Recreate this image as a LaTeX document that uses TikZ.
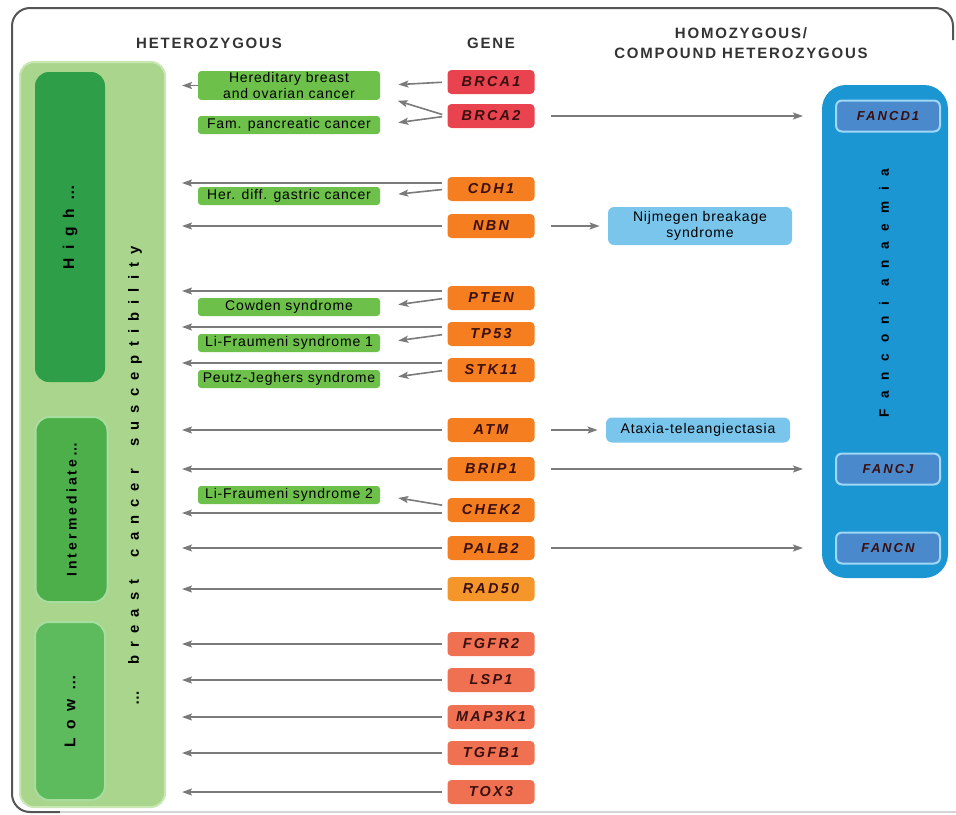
\documentclass[tikz,border=0pt]{standalone}
\usepackage{fontspec}
\setmainfont{Liberation Sans}
\newfontfamily\headfont[LetterSpace=12]{Liberation Sans}
\newfontfamily\genefont[LetterSpace=16]{Liberation Sans}
\newfontfamily\labelfont[LetterSpace=6]{Liberation Sans}
\newfontfamily\tierfont[LetterSpace=55]{Liberation Sans}
\newfontfamily\midtierfont[LetterSpace=22]{Liberation Sans}
\newfontfamily\fancfont[LetterSpace=78]{Liberation Sans}
\usetikzlibrary{arrows.meta}

\definecolor{framegray}{HTML}{555555}
\definecolor{linkgray}{HTML}{7A7A7A}
\definecolor{headgray}{HTML}{333333}
\definecolor{panelgreen}{HTML}{A9D68C}
\definecolor{panelline}{HTML}{C8E7B2}
\definecolor{highgreen}{HTML}{2F9E48}
\definecolor{midgreen}{HTML}{4CAF4A}
\definecolor{lowgreen}{HTML}{5DBB5E}
\definecolor{tierline}{HTML}{A8DDA0}
\definecolor{diseasegreen}{HTML}{6DC14B}
\definecolor{brcared}{HTML}{E8434F}
\definecolor{geneorange}{HTML}{F47E20}
\definecolor{radorange}{HTML}{F4962A}
\definecolor{genesalmon}{HTML}{F07152}
\definecolor{genetext}{HTML}{3A0F0F}
\definecolor{fancpanel}{HTML}{1B96D3}
\definecolor{fancbox}{HTML}{4A89CC}
\definecolor{fancline}{HTML}{9ED8F5}
\definecolor{syndblue}{HTML}{79C5EC}

\begin{document}
\begin{tikzpicture}[x=0.5pt, y=-0.5pt,
	header/.style={align=center, text=headgray, font=\headfont\fontsize{7.5}{10}\selectfont\bfseries},
	gene/.style={rounded corners=2pt, minimum width=43.5pt, minimum height=12pt, inner sep=0pt, text=genetext, font=\genefont\fontsize{7.2}{8}\selectfont\bfseries\itshape},
	disease/.style={fill=diseasegreen, rounded corners=1.5pt, minimum width=91pt, minimum height=9pt, inner sep=0.6pt, align=center, font=\labelfont\fontsize{7}{8}\selectfont},
	syndrome/.style={fill=syndblue, rounded corners=3pt, minimum width=92pt, inner sep=1pt, align=center, font=\labelfont\fontsize{7}{8}\selectfont},
	fanc/.style={fill=fancbox, draw=fancline, line width=1pt, rounded corners=3pt, minimum width=52pt, minimum height=15.5pt, inner sep=0pt, text=genetext, font=\genefont\fontsize{6.5}{8}\selectfont\bfseries\itshape},
	tier/.style={rounded corners=7pt, minimum height=35pt, inner sep=0pt, font=\tierfont\fontsize{7.8}{8}\selectfont\bfseries},
	link/.style={linkgray, line width=0.8pt, shorten <=2.5pt, shorten >=9pt, -{Stealth[length=5pt, width=3.5pt, inset=1pt]}}]
	\useasboundingbox (0,0) rectangle (956,814);

	% frame
	\draw[framegray, line width=1pt, rounded corners=9pt] (953,40) |- (12,8) |- (60,812);
	\draw[framegray!25, line width=0.8pt] (60,812) -- (956,812);

	% headers
	\node[header] (het) at (209,43) {HETEROZYGOUS};
	\node[header] (genehead) at (491,43) {GENE};
	\node[header] (hom) at (741,43) {HOMOZYGOUS/\\COMPOUND HETEROZYGOUS};

	% risk panel
	\node[fill=panelgreen, draw=panelline, line width=1pt, rounded corners=7pt, minimum width=72.5pt, minimum height=372.5pt] (panel) at (92.5,434.5) {};
	\node[tier, fill=highgreen, minimum width=155pt, rotate=90] (high) at (70,227) {High…};
	\node[tier, fill=midgreen, draw=tierline, line width=1pt, minimum width=92.5pt, minimum height=36pt, rotate=90, font=\midtierfont\fontsize{7}{8}\selectfont\bfseries] (mid) at (71.5,509.5) {Intermediate…};
	\node[tier, fill=lowgreen, draw=tierline, line width=1pt, minimum width=89pt, rotate=90] (low) at (70,711) {Low…};
	\node[rotate=90, inner sep=0pt, font=\tierfont\fontsize{7.4}{8}\selectfont\bfseries] (suscept) at (135,476) {…\hspace{7pt} breast\hspace{5pt} cancer\hspace{5pt} susceptibility};

	% Fanconi panel
	\node[fill=fancpanel, rounded corners=12pt, minimum width=63pt, minimum height=246.5pt] (fanconi) at (885,331.5) {};
	\node[rotate=90, inner sep=0pt, font=\fancfont\fontsize{6.8}{8}\selectfont\bfseries] (fantext) at (884,293) {Fanconi anaemia};
	\node[fanc] (FANCD1) at (888,116) {FANCD1};
	\node[fanc] (FANCJ) at (888,469) {FANCJ};
	\node[fanc] (FANCN) at (888,548) {FANCN};

	% diseases
	\node[disease] (hered) at (289,85.5) {Hereditary breast\\and ovarian cancer};
	\node[disease] (pancreas) at (289,125) {Fam. pancreatic cancer};
	\node[disease] (gastric) at (289,196) {Her. diff. gastric cancer};
	\node[disease] (cowden) at (289,307) {Cowden syndrome};
	\node[disease] (lifra1) at (289,343) {Li-Fraumeni syndrome 1};
	\node[disease] (peutz) at (289,379) {Peutz-Jeghers syndrome};
	\node[disease] (lifra2) at (289,495) {Li-Fraumeni syndrome 2};
	\node[syndrome, minimum height=19pt] (nijmegen) at (700,226) {Nijmegen breakage\\syndrome};
	\node[syndrome, minimum height=12.5pt] (ataxia) at (698,430) {Ataxia-teleangiectasia};

	% genes
	\node[gene, fill=brcared] (BRCA1) at (491,82) {BRCA1};
	\node[gene, fill=brcared] (BRCA2) at (491,116) {BRCA2};
	\node[gene, fill=geneorange] (CDH1) at (491,189) {CDH1};
	\node[gene, fill=geneorange] (NBN) at (491,226) {NBN};
	\node[gene, fill=geneorange] (PTEN) at (491,298) {PTEN};
	\node[gene, fill=geneorange] (TP53) at (491,334) {TP53};
	\node[gene, fill=geneorange] (STK11) at (491,370) {STK11};
	\node[gene, fill=geneorange] (ATM) at (491,430) {ATM};
	\node[gene, fill=geneorange] (BRIP1) at (491,469) {BRIP1};
	\node[gene, fill=geneorange] (CHEK2) at (491,510) {CHEK2};
	\node[gene, fill=geneorange] (PALB2) at (491,548) {PALB2};
	\node[gene, fill=radorange] (RAD50) at (491,589) {RAD50};
	\node[gene, fill=genesalmon] (FGFR2) at (491,644) {FGFR2};
	\node[gene, fill=genesalmon] (LSP1) at (491,680) {LSP1};
	\node[gene, fill=genesalmon] (MAP3K1) at (491,717) {MAP3K1};
	\node[gene, fill=genesalmon] (TGFB1) at (491,753) {TGFB1};
	\node[gene, fill=genesalmon] (TOX3) at (491,792) {TOX3};

	% heterozygous
	\path[link] (BRCA1.west) edge (hered.east);
	\path[link] (BRCA2.west) edge ([yshift=-5pt]hered.east);
	\path[link] (BRCA2.west) edge (pancreas.east);
	\path[link, shorten <=0pt, shorten >=8pt] (hered.west) edge (hered.west -| panel.east);
	\path[link, shorten >=8pt] ([yshift=3pt]CDH1.west) edge ([yshift=3pt]CDH1.west -| panel.east);
	\path[link] (CDH1.west) edge (gastric.east);
	\path[link, shorten >=8pt] (NBN.west) edge (NBN.west -| panel.east);
	\path[link, shorten >=8pt] ([yshift=3.5pt]PTEN.west) edge ([yshift=3.5pt]PTEN.west -| panel.east);
	\path[link] (PTEN.west) edge (cowden.east);
	\path[link, shorten >=8pt] ([yshift=3.5pt]TP53.west) edge ([yshift=3.5pt]TP53.west -| panel.east);
	\path[link] (TP53.west) edge (lifra1.east);
	\path[link, shorten >=8pt] ([yshift=3.5pt]STK11.west) edge ([yshift=3.5pt]STK11.west -| panel.east);
	\path[link] (STK11.west) edge (peutz.east);
	\path[link, shorten >=8pt] (ATM.west) edge (ATM.west -| panel.east);
	\path[link, shorten >=8pt] (BRIP1.west) edge (BRIP1.west -| panel.east);
	\path[link, shorten >=8pt] ([yshift=-1.5pt]CHEK2.west) edge ([yshift=-1.5pt]CHEK2.west -| panel.east);
	\path[link] ([yshift=2pt]CHEK2.west) edge (lifra2.east);
	\path[link, shorten >=8pt] (PALB2.west) edge (PALB2.west -| panel.east);
	\path[link, shorten >=8pt] (RAD50.west) edge (RAD50.west -| panel.east);
	\path[link, shorten >=8pt] (FGFR2.west) edge (FGFR2.west -| panel.east);
	\path[link, shorten >=8pt] (LSP1.west) edge (LSP1.west -| panel.east);
	\path[link, shorten >=8pt] (MAP3K1.west) edge (MAP3K1.west -| panel.east);
	\path[link, shorten >=8pt] (TGFB1.west) edge (TGFB1.west -| panel.east);
	\path[link, shorten >=8pt] (TOX3.west) edge (TOX3.west -| panel.east);

	% homozygous
	\path[link, shorten <=8pt, shorten >=4pt] (NBN.east) edge (nijmegen.west);
	\path[link, shorten <=8pt, shorten >=4pt] (ATM.east) edge (ataxia.west);
	\path[link, shorten <=8pt, shorten >=16pt] (BRCA2.east) edge (FANCD1.west);
	\path[link, shorten <=8pt, shorten >=16pt] (BRIP1.east) edge (FANCJ.west);
	\path[link, shorten <=8pt, shorten >=16pt] (PALB2.east) edge (FANCN.west);
\end{tikzpicture}
\end{document}
